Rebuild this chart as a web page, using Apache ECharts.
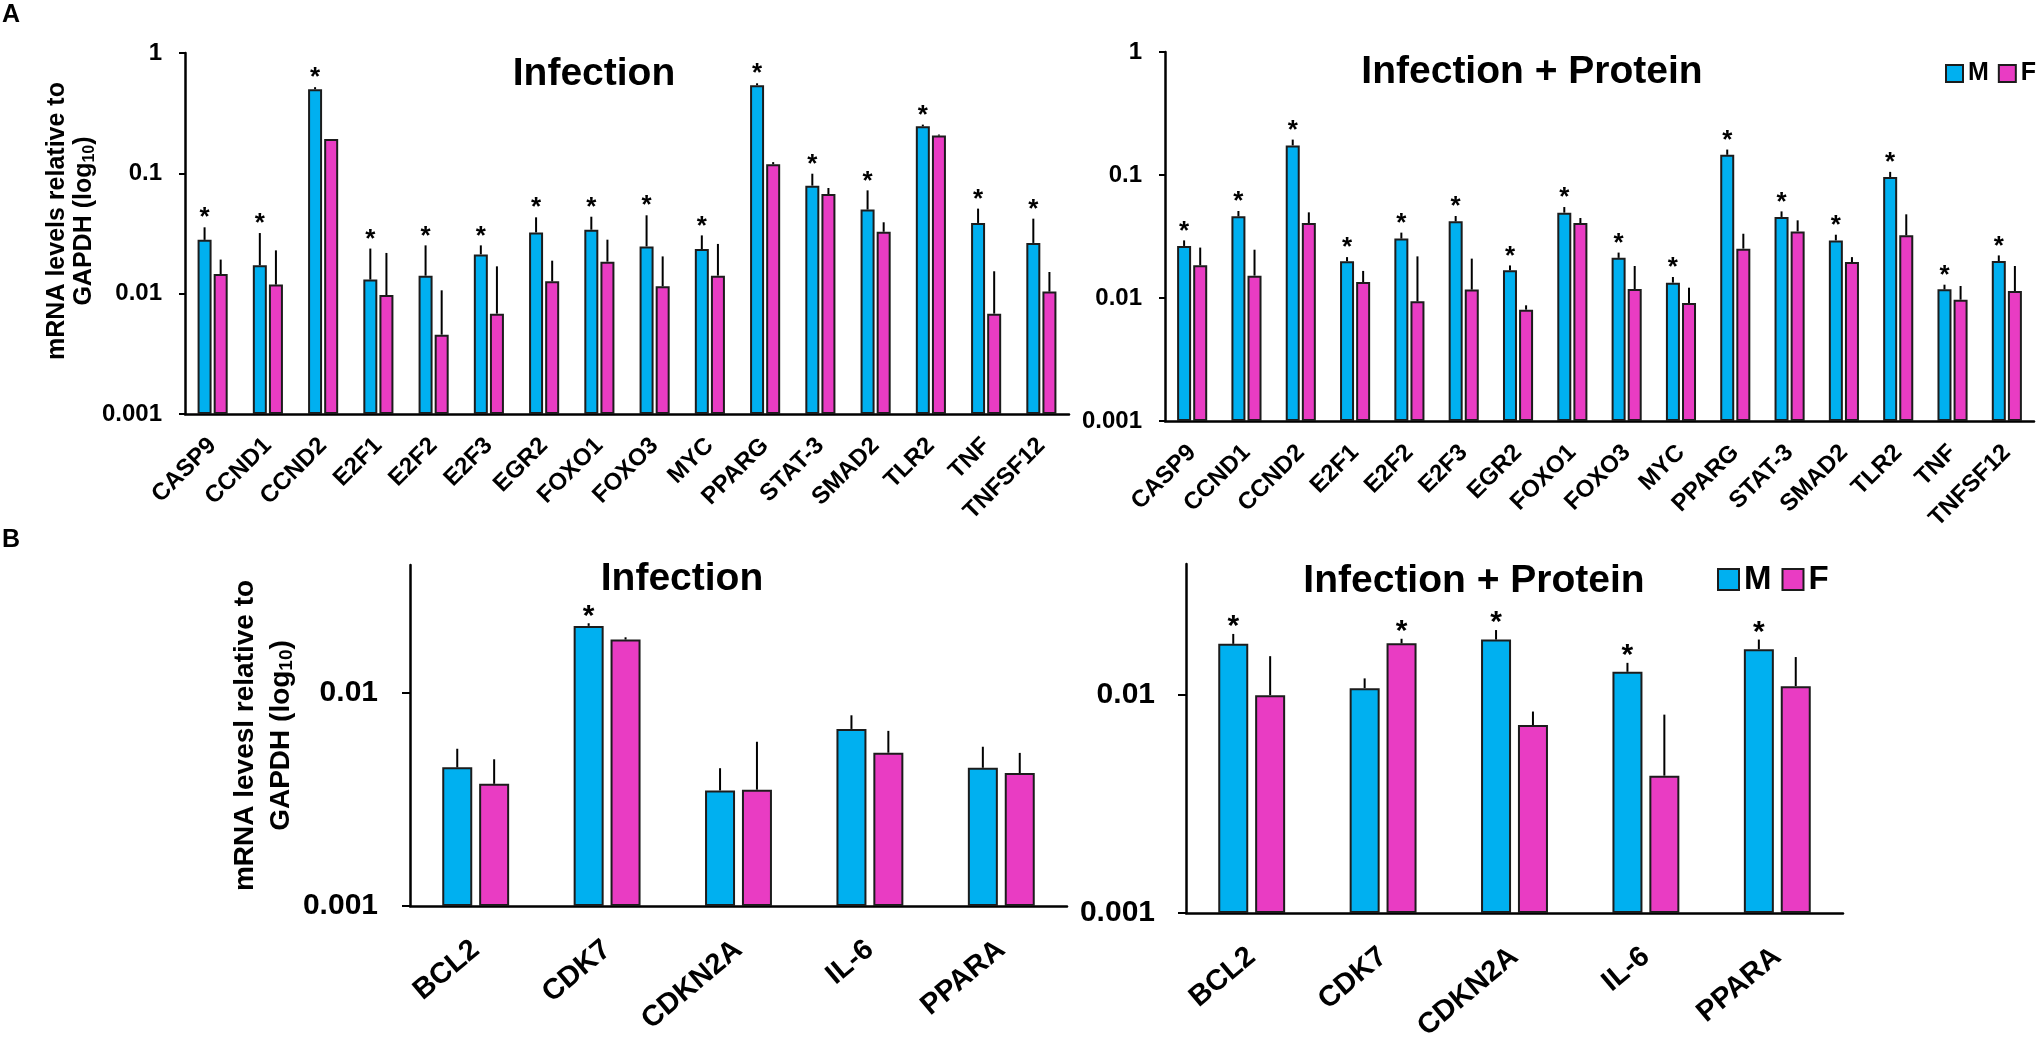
<!DOCTYPE html>
<html>
<head>
<meta charset="utf-8">
<style>
  html, body { margin: 0; padding: 0; background: #fff; }
  #chart { width: 2037px; height: 1041px; }
</style>
<script src="https://cdn.jsdelivr.net/npm/echarts@6/dist/echarts.min.js"></script>
</head>
<body>
<div id="chart"></div>
<script>
// panel A genes
var genesA = ['CASP9', 'CCND1', 'CCND2', 'E2F1', 'E2F2', 'E2F3', 'EGR2', 'FOXO1',
  'FOXO3', 'MYC', 'PPARG', 'STAT-3', 'SMAD2', 'TLR2', 'TNF', 'TNFSF12'];

// A - Infection
var infM = [0.028, 0.0172, 0.50, 0.0131, 0.0141, 0.0212, 0.0323, 0.034, 0.0247, 0.0235, 0.54, 0.079, 0.050, 0.246, 0.0387, 0.0264];
var infMErr = [0.0356, 0.0319, 0.52, 0.0237, 0.0252, 0.0252, 0.0431, 0.0436, 0.0448, 0.0305, 0.56, 0.0993, 0.0722, 0.254, 0.0509, 0.042];
var infF = [0.01455, 0.0119, 0.193, 0.00975, 0.00456, 0.00682, 0.01266, 0.01845, 0.01151, 0.01412, 0.119, 0.0673, 0.0327, 0.206, 0.00682, 0.0104];
var infFErr = [0.0192, 0.0229, 0.193, 0.0218, 0.01066, 0.01687, 0.0188, 0.0281, 0.0204, 0.0259, 0.124, 0.0755, 0.0392, 0.21, 0.01535, 0.01514];
var infStarM = [1, 1, 1, 1, 1, 1, 1, 1, 1, 1, 1, 1, 1, 1, 1, 1];
var infStarF = [0, 0, 0, 0, 0, 0, 0, 0, 0, 0, 0, 0, 0, 0, 0, 0];

// A - Infection + Protein
var protM = [0.0265, 0.0461, 0.174, 0.0199, 0.0304, 0.042, 0.0168, 0.0494, 0.0212, 0.01333, 0.146, 0.0456, 0.0294, 0.0963, 0.01176, 0.020];
var protMErr = [0.0294, 0.051, 0.194, 0.0215, 0.034, 0.0464, 0.0184, 0.0549, 0.0234, 0.01482, 0.161, 0.0506, 0.0327, 0.106, 0.01283, 0.0222];
var protF = [0.01844, 0.0152, 0.0407, 0.01349, 0.00939, 0.0117, 0.00804, 0.0407, 0.01184, 0.0091, 0.0252, 0.0348, 0.0196, 0.0323, 0.00969, 0.0114];
var protFErr = [0.0257, 0.0247, 0.0497, 0.0166, 0.0218, 0.0209, 0.00872, 0.0447, 0.0182, 0.01213, 0.0333, 0.0428, 0.0215, 0.0479, 0.01252, 0.0182];
var protStarM = [1, 1, 1, 1, 1, 1, 1, 1, 1, 1, 1, 1, 1, 1, 1, 1];
var protStarF = [0, 0, 0, 0, 0, 0, 0, 0, 0, 0, 0, 0, 0, 0, 0, 0];

// panel B genes
var genesB = ['BCL2', 'CDK7', 'CDKN2A', 'IL-6', 'PPARA'];

var bInfM = [0.00448, 0.0207, 0.00349, 0.00679, 0.00446];
var bInfMErr = [0.00548, 0.0213, 0.00444, 0.00787, 0.0056];
var bInfF = [0.00375, 0.01787, 0.00352, 0.00525, 0.00421];
var bInfFErr = [0.00489, 0.0183, 0.00591, 0.00665, 0.00524];
var bInfStarM = [0, 1, 0, 0, 0];
var bInfStarF = [0, 0, 0, 0, 0];

var bProtM = [0.0172, 0.01077, 0.018, 0.0128, 0.01625];
var bProtMErr = [0.0191, 0.01194, 0.0199, 0.01407, 0.018];
var bProtF = [0.0100, 0.01729, 0.00729, 0.00427, 0.0110];
var bProtFErr = [0.0151, 0.01815, 0.00841, 0.00814, 0.01496];
var bProtStarM = [1, 0, 1, 1, 1];
var bProtStarF = [0, 1, 0, 0, 0];

var FONT = 'Liberation Sans';
var BLUE = '#00B0F0';
var PINK = '#E93CC3';

var chart = echarts.init(document.getElementById('chart'));

function fmtLog(v) {
  return String(parseFloat(Number(v).toPrecision(3)));
}

function xAxisOf(g, cats, rotate, size, margin) {
  return {
    type: 'category', gridIndex: g, data: cats,
    axisTick: { show: false },
    axisLine: { show: true, onZero: false, lineStyle: { color: '#000', width: 2.5 } },
    axisLabel: { interval: 0, rotate: rotate, fontSize: size, fontWeight: 'bold', fontFamily: FONT, color: '#000', margin: margin },
    splitLine: { show: false }
  };
}

function yAxisOf(g, max, size, margin, tickLen) {
  return {
    type: 'log', gridIndex: g, logBase: 10, min: 0.001, max: max, startValue: 0.001,
    axisLine: { show: true, lineStyle: { color: '#000', width: 2.5 } },
    axisTick: { show: true, length: tickLen, lineStyle: { color: '#000', width: 2 } },
    axisLabel: { fontSize: size, fontWeight: 'bold', fontFamily: FONT, color: '#000', margin: margin,
      showMaxLabel: max === 1, formatter: fmtLog },
    splitLine: { show: false },
    minorTick: { show: false }
  };
}

function barSeries(g, name, vals, color, width, gap) {
  return {
    type: 'bar', name: name, xAxisIndex: g, yAxisIndex: g, data: vals,
    barWidth: width, barGap: gap,
    itemStyle: { color: color, borderColor: '#1c1c1c', borderWidth: 2 },
    emphasis: { disabled: true }
  };
}

// error bar (upper only) + significance star
function errSeries(g, vals, errs, stars, dx, starSize, starLift) {
  var data = vals.map(function (v, i) { return [i, v, errs[i], stars[i]]; });
  return {
    type: 'custom', xAxisIndex: g, yAxisIndex: g, z: 5, data: data,
    encode: { x: 0, y: 1 },
    silent: true,
    renderItem: function (params, api) {
      var base = api.coord([api.value(0), api.value(1)]);
      var top = api.coord([api.value(0), api.value(2)]);
      var x = base[0] + dx;
      var kids = [{
        type: 'line',
        shape: { x1: x, y1: base[1], x2: x, y2: top[1] },
        style: { stroke: '#000', lineWidth: 2 }
      }];
      if (api.value(3)) {
        kids.push({
          type: 'text', x: x, y: top[1] - starLift,
          style: { text: '*', fontSize: starSize, fontWeight: 'bold', fontFamily: FONT, fill: '#000',
            align: 'center', verticalAlign: 'middle' }
        });
      }
      return { type: 'group', children: kids };
    }
  };
}

var subRich = {
  sub: { fontSize: 16, fontWeight: 'bold', fontFamily: FONT, color: '#000', padding: [10, 0, 0, 0] }
};
var subRichB = {
  sub: { fontSize: 19, fontWeight: 'bold', fontFamily: FONT, color: '#000', padding: [12, 0, 0, 0] }
};

// bar offsets: A bars 14px, gap 15% ; B bars 30px, gap 23%
var dA = (14 + 14 * 0.15) / 2;
var dB = (30 + 30 * 0.23) / 2;

var option = {
  animation: false,
  backgroundColor: '#fff',
  grid: [
    { left: 185, top: 53, width: 884, height: 361, outerBoundsMode: 'none' },
    { left: 1165, top: 52, width: 869, height: 369, outerBoundsMode: 'none' },
    { left: 410, top: 565, width: 657, height: 341, outerBoundsMode: 'none' },
    { left: 1186, top: 564, width: 657, height: 349, outerBoundsMode: 'none' }
  ],
  xAxis: [
    xAxisOf(0, genesA, 45, 24, 28),
    xAxisOf(1, genesA, 45, 24, 28),
    xAxisOf(2, genesB, 40, 29, 40),
    xAxisOf(3, genesB, 40, 29, 40)
  ],
  yAxis: [
    Object.assign(yAxisOf(0, 1, 24, 23, 6), {
      name: 'mRNA levels relative to\nGAPDH (log{sub|10})',
      nameLocation: 'middle', nameRotate: 90, nameGap: 70,
      nameTextStyle: { fontSize: 25, fontWeight: 'bold', fontFamily: FONT, color: '#000', lineHeight: 27,
        padding: [0, 0, 0, 25], rich: subRich }
    }),
    yAxisOf(1, 1, 24, 23, 6),
    Object.assign(yAxisOf(2, 0.04, 30, 32, 8), {
      name: 'mRNA levesl relative to\nGAPDH (log{sub|10})',
      nameLocation: 'middle', nameRotate: 90, nameGap: 105,
      nameTextStyle: { fontSize: 28, fontWeight: 'bold', fontFamily: FONT, color: '#000', lineHeight: 36,
        rich: subRichB }
    }),
    yAxisOf(3, 0.04, 30, 31, 8)
  ],
  legend: [
    {
      orient: 'horizontal', left: 1945, top: 61, width: 200, padding: 0,
      itemWidth: 17, itemHeight: 17, itemGap: 9,
      icon: 'rect', data: ['M', 'F'], selectedMode: false,
      itemStyle: { borderColor: '#1c1c1c', borderWidth: 2 },
      textStyle: { fontSize: 25, fontWeight: 'bold', fontFamily: FONT, color: '#000' }
    },
    {
      orient: 'horizontal', left: 1717, top: 563, width: 250, padding: 0,
      itemWidth: 21, itemHeight: 21, itemGap: 10,
      icon: 'rect', data: ['M', 'F'], selectedMode: false,
      itemStyle: { borderColor: '#1c1c1c', borderWidth: 2 },
      textStyle: { fontSize: 33, fontWeight: 'bold', fontFamily: FONT, color: '#000' }
    }
  ],
  graphic: [
    { type: 'text', left: 2, top: 3, style: { text: 'A', fontSize: 25, fontWeight: 'bold', fontFamily: FONT, fill: '#000' } },
    { type: 'text', left: 2, top: 528, style: { text: 'B', fontSize: 25, fontWeight: 'bold', fontFamily: FONT, fill: '#000' } },
    { type: 'text', x: 594, y: 74, style: { text: 'Infection', fontSize: 39, fontWeight: 'bold', fontFamily: FONT, fill: '#000', align: 'center', verticalAlign: 'middle' } },
    { type: 'text', x: 1532, y: 72, style: { text: 'Infection + Protein', fontSize: 39, fontWeight: 'bold', fontFamily: FONT, fill: '#000', align: 'center', verticalAlign: 'middle' } },
    { type: 'text', x: 682, y: 579, style: { text: 'Infection', fontSize: 39, fontWeight: 'bold', fontFamily: FONT, fill: '#000', align: 'center', verticalAlign: 'middle' } },
    { type: 'text', x: 1474, y: 581, style: { text: 'Infection + Protein', fontSize: 39, fontWeight: 'bold', fontFamily: FONT, fill: '#000', align: 'center', verticalAlign: 'middle' } }
  ],
  series: [
    barSeries(0, 'M', infM, BLUE, 14, '15%'),
    barSeries(0, 'F', infF, PINK, 14, '15%'),
    errSeries(0, infM, infMErr, infStarM, -dA, 26, 9),
    errSeries(0, infF, infFErr, infStarF, dA, 26, 9),

    barSeries(1, 'M', protM, BLUE, 14, '15%'),
    barSeries(1, 'F', protF, PINK, 14, '15%'),
    errSeries(1, protM, protMErr, protStarM, -dA, 26, 9),
    errSeries(1, protF, protFErr, protStarF, dA, 26, 9),

    barSeries(2, 'M', bInfM, BLUE, 30, '23%'),
    barSeries(2, 'F', bInfF, PINK, 30, '23%'),
    errSeries(2, bInfM, bInfMErr, bInfStarM, -dB, 30, 7),
    errSeries(2, bInfF, bInfFErr, bInfStarF, dB, 30, 7),

    barSeries(3, 'M', bProtM, BLUE, 30, '23%'),
    barSeries(3, 'F', bProtF, PINK, 30, '23%'),
    errSeries(3, bProtM, bProtMErr, bProtStarM, -dB, 30, 7),
    errSeries(3, bProtF, bProtFErr, bProtStarF, dB, 30, 7)
  ]
};

chart.setOption(option);
</script>
</body>
</html>
